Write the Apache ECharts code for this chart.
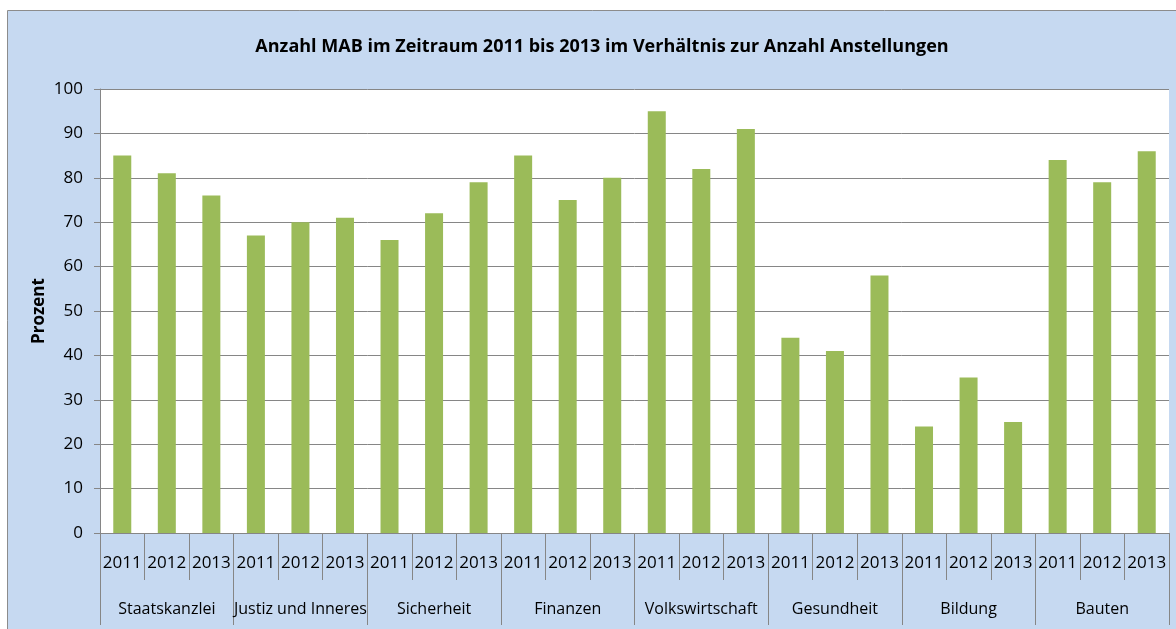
<!DOCTYPE html>
<html>
<head>
<meta charset="utf-8">
<title>Anzahl MAB</title>
<script src="https://cdn.jsdelivr.net/npm/echarts@6/dist/echarts.min.js"></script>
<style>
html,body{margin:0;padding:0;background:#fff;}
#chart{width:1176px;height:629px;}
</style>
</head>
<body>
<div id="chart"></div>
<script>
'use strict';

// Daten
var years=['2011','2012','2013'];
var departments=['Staatskanzlei','Justiz und Inneres','Sicherheit','Finanzen','Volkswirtschaft','Gesundheit','Bildung','Bauten'];
var values=[85,81,76, 67,70,71, 66,72,79, 85,75,80, 95,82,91, 44,41,58, 24,35,25, 84,79,86];
var yTicks=[0,10,20,30,40,50,60,70,80,90,100];

var FONT='"Open Sans", sans-serif';
var AXIS_GRAY='#868686';

var yearLabels=[];
departments.forEach(function(){
    years.forEach(function(y){ yearLabels.push(y); });
});

var chart=echarts.init(document.getElementById('chart'));
chart.setOption({
    backgroundColor:'#fff',
    animation:false,
    graphic:[{
        type:'rect',
        z:-10,
        shape:{x:7.5,y:10.5,width:1180,height:630},
        style:{fill:'#c6d9f1',stroke:'#8c8c8c',lineWidth:1}
    }],
    title:{
        text:'Anzahl MAB im Zeitraum 2011 bis 2013 im Verhältnis zur Anzahl Anstellungen',
        left:597,
        textAlign:'center',
        top:33,
        textStyle:{fontFamily:FONT,fontSize:18,fontWeight:'bold',color:'#000'}
    },
    grid:{
        left:100,top:89,width:1069,height:444,
        show:true,backgroundColor:'#fff',borderWidth:0
    },
    xAxis:[{
        type:'category',
        data:yearLabels,
        position:'bottom',
        axisLine:{lineStyle:{color:AXIS_GRAY,width:1}},
        axisTick:{show:true,interval:0,length:47,lineStyle:{color:AXIS_GRAY}},
        axisLabel:{margin:22,interval:0,color:'#000',fontFamily:FONT,fontSize:17}
    },{
        type:'category',
        data:departments,
        position:'bottom',
        axisLine:{show:false},
        axisTick:{show:true,interval:0,length:92,lineStyle:{color:AXIS_GRAY}},
        axisLabel:{margin:68,interval:0,color:'#000',fontFamily:FONT,fontSize:16}
    }],
    yAxis:{
        type:'value',
        min:yTicks[0],
        max:yTicks[yTicks.length-1],
        interval:10,
        name:'Prozent',
        nameLocation:'middle',
        nameGap:52,
        nameMoveOverlap:false,
        nameTextStyle:{fontFamily:FONT,fontSize:17,fontWeight:'bold',color:'#000'},
        axisLine:{show:true,lineStyle:{color:AXIS_GRAY}},
        axisTick:{show:true,length:6,lineStyle:{color:AXIS_GRAY}},
        axisLabel:{margin:17,color:'#000',fontFamily:FONT,fontSize:17},
        splitLine:{lineStyle:{color:AXIS_GRAY,width:1}}
    },
    series:[{
        type:'bar',
        xAxisIndex:0,
        data:values,
        barWidth:18,
        itemStyle:{color:'#9bbb59'}
    }]
});
</script>
</body>
</html>
